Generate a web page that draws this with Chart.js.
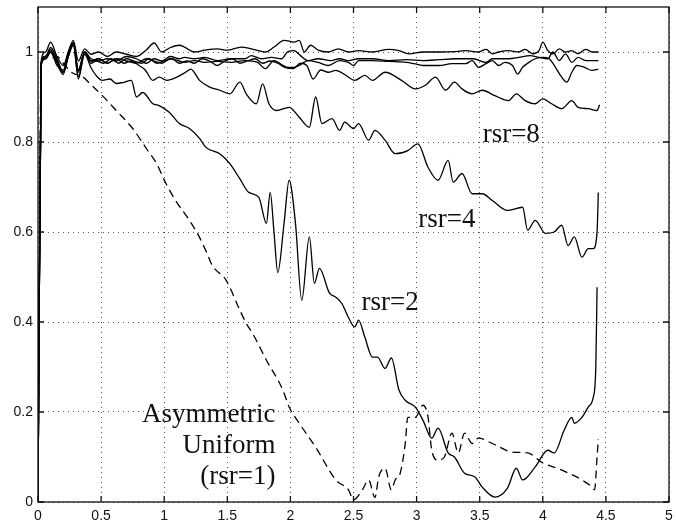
<!DOCTYPE html>
<html>
<head>
<meta charset="utf-8">
<script src="https://cdn.jsdelivr.net/npm/chart.js@4"></script>
<style>
  html, body { margin: 0; padding: 0; background: #fff; }
  #wrap { width: 676px; height: 523px; }
</style>
</head>
<body>
<div id="wrap"><canvas id="chart" width="676" height="523"></canvas></div>
<script>
// [x, y] samples for each curve, rsr = 1 is the dashed one
var rsr1 = [[0,0],[0.025,0.97],[0.06,0.99],[0.1,0.985],[0.15,0.99],[0.2,0.975],[0.26,0.956],[0.3,0.95],[0.35,0.946],[0.41,0.93],[0.51,0.903],[0.62,0.87],[0.75,0.83],[0.86,0.785],[0.94,0.752],[1.01,0.71],[1.09,0.67],[1.2,0.626],[1.28,0.588],[1.34,0.552],[1.38,0.526],[1.49,0.493],[1.6,0.426],[1.65,0.397],[1.7,0.375],[1.81,0.315],[1.94,0.249],[1.99,0.211],[2.07,0.175],[2.2,0.122],[2.36,0.049],[2.46,0.027],[2.5,0.005],[2.57,0.027],[2.62,0.049],[2.67,0.01],[2.7,0.056],[2.75,0.075],[2.8,0.027],[2.83,0.049],[2.87,0.064],[2.91,0.13],[2.93,0.188],[2.99,0.188],[3.05,0.215],[3.09,0.19],[3.12,0.115],[3.17,0.093],[3.22,0.1],[3.28,0.153],[3.33,0.109],[3.38,0.153],[3.44,0.13],[3.49,0.142],[3.6,0.13],[3.76,0.111],[3.88,0.109],[4.0,0.087],[4.15,0.071],[4.31,0.049],[4.39,0.033],[4.41,0.027],[4.43,0.1],[4.44,0.14]];

var rsr2 = [[0,0],[0.025,0.97],[0.06,0.985],[0.1,1.0],[0.15,0.98],[0.2,0.955],[0.24,0.99],[0.28,1.015],[0.32,0.945],[0.37,0.995],[0.42,0.965],[0.46,0.948],[0.51,0.937],[0.57,0.94],[0.62,0.93],[0.67,0.932],[0.74,0.937],[0.78,0.9],[0.83,0.91],[0.91,0.885],[0.96,0.881],[1.04,0.866],[1.12,0.841],[1.2,0.83],[1.28,0.808],[1.33,0.788],[1.44,0.774],[1.52,0.752],[1.6,0.718],[1.67,0.688],[1.75,0.677],[1.81,0.619],[1.84,0.688],[1.87,0.6],[1.9,0.51],[1.95,0.62],[1.99,0.715],[2.04,0.62],[2.09,0.448],[2.15,0.589],[2.19,0.486],[2.23,0.519],[2.31,0.464],[2.36,0.455],[2.41,0.44],[2.46,0.41],[2.51,0.389],[2.54,0.404],[2.59,0.366],[2.65,0.322],[2.69,0.322],[2.75,0.297],[2.8,0.32],[2.86,0.249],[2.91,0.226],[2.99,0.211],[3.05,0.182],[3.12,0.142],[3.17,0.164],[3.25,0.109],[3.3,0.1],[3.38,0.064],[3.46,0.056],[3.52,0.033],[3.62,0.011],[3.72,0.031],[3.79,0.075],[3.84,0.049],[3.94,0.078],[4.04,0.115],[4.09,0.109],[4.17,0.16],[4.23,0.188],[4.25,0.175],[4.31,0.188],[4.36,0.211],[4.4,0.233],[4.42,0.3],[4.43,0.477]];

var rsr4 = [[0,0],[0.025,0.975],[0.06,0.99],[0.1,1.005],[0.15,0.975],[0.2,0.95],[0.24,0.995],[0.28,1.02],[0.32,0.94],[0.37,1.0],[0.42,0.98],[0.48,0.985],[0.55,0.975],[0.62,0.985],[0.68,0.975],[0.74,0.98],[0.8,0.97],[0.85,0.96],[0.91,0.937],[0.96,0.944],[1.02,0.937],[1.1,0.944],[1.17,0.955],[1.21,0.962],[1.28,0.937],[1.36,0.922],[1.44,0.915],[1.52,0.907],[1.6,0.933],[1.65,0.907],[1.73,0.885],[1.78,0.929],[1.83,0.885],[1.89,0.87],[1.99,0.877],[2.07,0.855],[2.15,0.833],[2.2,0.9],[2.25,0.841],[2.33,0.852],[2.39,0.826],[2.43,0.844],[2.5,0.83],[2.54,0.841],[2.62,0.804],[2.67,0.826],[2.75,0.804],[2.83,0.774],[2.93,0.781],[3.01,0.796],[3.09,0.744],[3.17,0.715],[3.25,0.759],[3.29,0.711],[3.36,0.73],[3.44,0.685],[3.52,0.685],[3.6,0.67],[3.72,0.648],[3.84,0.655],[3.88,0.604],[3.94,0.626],[4.02,0.597],[4.09,0.6],[4.15,0.615],[4.2,0.57],[4.25,0.589],[4.31,0.544],[4.36,0.563],[4.4,0.563],[4.43,0.6],[4.44,0.688]];

var rsr8 = [[0,0],[0.025,0.975],[0.06,0.99],[0.1,1.0],[0.15,0.97],[0.2,0.96],[0.24,1.0],[0.28,1.02],[0.32,0.955],[0.37,1.0],[0.42,0.975],[0.46,0.98],[0.52,0.975],[0.58,0.985],[0.64,0.975],[0.7,0.985],[0.76,0.98],[0.82,0.975],[0.88,0.985],[0.94,0.975],[1.0,0.98],[1.06,0.985],[1.12,0.975],[1.18,0.98],[1.24,0.975],[1.3,0.985],[1.36,0.98],[1.42,0.97],[1.48,0.98],[1.54,0.985],[1.6,0.975],[1.66,0.98],[1.72,0.985],[1.78,0.975],[1.84,0.98],[1.9,0.975],[1.96,0.965],[2.02,0.963],[2.08,0.975],[2.13,0.97],[2.18,0.94],[2.24,0.96],[2.3,0.955],[2.36,0.959],[2.43,0.95],[2.51,0.937],[2.59,0.948],[2.65,0.937],[2.75,0.955],[2.88,0.937],[2.99,0.918],[3.07,0.926],[3.15,0.944],[3.23,0.915],[3.3,0.933],[3.36,0.918],[3.44,0.907],[3.52,0.915],[3.62,0.903],[3.73,0.892],[3.79,0.907],[3.86,0.892],[3.94,0.885],[4.0,0.896],[4.07,0.885],[4.15,0.874],[4.23,0.892],[4.28,0.877],[4.36,0.874],[4.43,0.87],[4.45,0.883]];

var rsr16 = [[0,0],[0.025,0.975],[0.06,0.985],[0.1,1.0],[0.15,0.98],[0.2,0.955],[0.24,0.99],[0.28,1.02],[0.32,0.96],[0.37,1.0],[0.42,0.98],[0.48,0.985],[0.55,0.975],[0.62,0.985],[0.7,0.98],[0.78,0.975],[0.86,0.985],[0.92,0.98],[0.98,0.975],[1.05,0.985],[1.12,0.98],[1.16,0.977],[1.24,0.981],[1.32,0.977],[1.42,0.979],[1.53,0.977],[1.64,0.981],[1.74,0.977],[1.8,0.963],[1.87,0.981],[1.93,0.972],[1.98,0.966],[2.03,0.966],[2.08,0.972],[2.14,0.981],[2.22,0.977],[2.3,0.97],[2.39,0.981],[2.46,0.977],[2.5,0.97],[2.54,0.981],[2.65,0.981],[2.78,0.979],[2.92,0.977],[2.98,0.974],[3.05,0.97],[3.18,0.97],[3.28,0.974],[3.39,0.974],[3.44,0.981],[3.49,0.966],[3.55,0.974],[3.6,0.981],[3.65,0.97],[3.7,0.977],[3.76,0.97],[3.8,0.951],[3.84,0.966],[3.89,0.977],[3.94,0.985],[4.0,0.988],[4.05,0.985],[4.1,0.966],[4.14,0.948],[4.19,0.933],[4.23,0.955],[4.27,0.97],[4.33,0.966],[4.39,0.959],[4.44,0.962]];

var rsr32 = [[0,0],[0.025,0.975],[0.06,0.99],[0.1,1.01],[0.15,0.985],[0.2,0.955],[0.24,0.99],[0.28,1.02],[0.32,0.96],[0.37,1.0],[0.42,0.985],[0.48,0.98],[0.55,0.985],[0.62,0.98],[0.7,0.99],[0.78,0.985],[0.86,0.975],[0.92,0.985],[0.98,0.98],[1.05,0.99],[1.12,0.985],[1.16,0.988],[1.24,0.985],[1.32,0.988],[1.42,0.981],[1.53,0.985],[1.64,0.985],[1.69,0.992],[1.77,0.985],[1.85,0.988],[1.93,0.985],[1.98,1.001],[2.03,1.003],[2.08,0.992],[2.14,0.981],[2.22,0.985],[2.32,0.981],[2.39,0.985],[2.46,0.981],[2.54,0.985],[2.65,0.985],[2.78,0.981],[2.92,0.983],[3.05,0.981],[3.18,0.983],[3.31,0.985],[3.45,0.985],[3.55,0.977],[3.6,0.985],[3.65,0.985],[3.73,0.985],[3.81,0.988],[3.9,0.992],[3.97,0.988],[4.04,0.985],[4.08,1.0],[4.13,0.981],[4.18,0.996],[4.23,0.977],[4.28,0.988],[4.34,0.981],[4.39,0.981],[4.44,0.981]];

var rsr64 = [[0,0],[0.025,0.98],[0.06,1.0],[0.1,1.022],[0.15,0.99],[0.2,0.97],[0.24,1.0],[0.28,1.026],[0.32,0.98],[0.37,1.007],[0.42,0.995],[0.48,1.0],[0.55,0.99],[0.62,1.0],[0.7,0.995],[0.78,0.99],[0.86,1.005],[0.92,1.02],[0.98,1.0],[1.05,1.01],[1.12,1.015],[1.16,1.011],[1.24,1.0],[1.32,1.004],[1.42,1.007],[1.5,1.004],[1.61,1.011],[1.69,1.007],[1.8,1.0],[1.87,1.011],[1.95,1.026],[2.03,1.022],[2.07,1.026],[2.11,1.0],[2.16,1.015],[2.22,1.004],[2.3,1.0],[2.38,1.007],[2.46,1.0],[2.54,1.003],[2.65,1.0],[2.78,1.006],[2.86,1.003],[2.94,0.996],[3.05,1.0],[3.18,1.0],[3.31,1.001],[3.39,1.003],[3.49,1.0],[3.55,1.006],[3.6,0.996],[3.65,1.0],[3.73,1.003],[3.81,1.0],[3.86,1.006],[3.92,0.996],[3.97,1.003],[4.0,1.022],[4.04,1.003],[4.08,0.996],[4.13,1.007],[4.18,1.0],[4.23,1.003],[4.28,0.996],[4.34,1.006],[4.39,1.0],[4.44,1.0]];

// text written inside the plot: lines, anchor in data units, alignment
var notes = [
  { lines: ['rsr=8'], x: 3.75, y: 0.80, align: 'center' },
  { lines: ['rsr=4'], x: 3.24, y: 0.611, align: 'center' },
  { lines: ['rsr=2'], x: 2.79, y: 0.426, align: 'center' },
  { lines: ['Asymmetric', 'Uniform', '(rsr=1)'], x: 1.882, y: 0.177, align: 'right' }
];

function toPoints(arr) {
  return arr.map(function (p) { return { x: p[0], y: p[1] }; });
}

function curve(arr, dashed) {
  return {
    data: toPoints(arr),
    borderColor: '#000',
    borderWidth: 1.3,
    borderDash: dashed ? [8, 5] : [],
    pointRadius: 0,
    fill: false,
    cubicInterpolationMode: 'monotone'
  };
}

// tick text like 0, 0.5, 1 (no trailing .0)
function plainNumber(v) {
  return String(Math.round(v * 10) / 10);
}

// box round the plot, inward tick marks and the rsr labels
var frame = {
  id: 'frame',
  afterDraw: function (chart) {
    var ctx = chart.ctx, a = chart.chartArea;
    var xs = chart.scales.x, ys = chart.scales.y;
    ctx.save();
    ctx.strokeStyle = '#111';
    ctx.lineWidth = 1.3;
    ctx.setLineDash([]);
    ctx.strokeRect(a.left, a.top, a.right - a.left, a.bottom - a.top);
    ctx.beginPath();
    xs.ticks.forEach(function (t) {
      var px = xs.getPixelForValue(t.value);
      ctx.moveTo(px, a.bottom); ctx.lineTo(px, a.bottom - 6);
      ctx.moveTo(px, a.top); ctx.lineTo(px, a.top + 6);
    });
    ys.ticks.forEach(function (t) {
      var py = ys.getPixelForValue(t.value);
      ctx.moveTo(a.left, py); ctx.lineTo(a.left + 6, py);
      ctx.moveTo(a.right, py); ctx.lineTo(a.right - 6, py);
    });
    ctx.stroke();

    ctx.fillStyle = '#111';
    ctx.font = "27px 'Liberation Serif', 'Times New Roman', serif";
    ctx.textBaseline = 'alphabetic';
    notes.forEach(function (n) {
      ctx.textAlign = n.align;
      var px = xs.getPixelForValue(n.x);
      var py = ys.getPixelForValue(n.y);
      n.lines.forEach(function (line, i) {
        ctx.fillText(line, px, py + i * 31);
      });
    });
    ctx.restore();
  }
};

var gridStyle = { color: '#555', lineWidth: 1, drawTicks: false };

new Chart(document.getElementById('chart'), {
  type: 'line',
  data: {
    datasets: [
      curve(rsr1, true),
      curve(rsr2),
      curve(rsr4),
      curve(rsr8),
      curve(rsr16),
      curve(rsr32),
      curve(rsr64)
    ]
  },
  options: {
    responsive: false,
    animation: false,
    layout: { padding: { top: 7, right: 7, left: 0, bottom: 0 } },
    plugins: { legend: { display: false }, tooltip: { enabled: false } },
    scales: {
      x: {
        type: 'linear',
        min: 0,
        max: 5,
        grid: gridStyle,
        border: { display: false, dash: [1, 4] },
        ticks: {
          stepSize: 0.5,
          padding: 6,
          color: '#111',
          maxRotation: 0,
          callback: plainNumber,
          font: { family: "'Liberation Sans', Arial, sans-serif", size: 14 }
        },
        afterFit: function (s) {
          s.height = 21;
          s.paddingLeft = 0;
          s.paddingRight = 0;
        }
      },
      y: {
        type: 'linear',
        min: 0,
        max: 1.1,
        grid: gridStyle,
        border: { display: false, dash: [1, 4] },
        ticks: {
          stepSize: 0.2,
          padding: 5,
          color: '#111',
          callback: plainNumber,
          font: { family: "'Liberation Sans', Arial, sans-serif", size: 14 }
        },
        afterBuildTicks: function (s) {
          s.ticks = s.ticks.filter(function (t) { return t.value <= 1.0001; });
        },
        afterFit: function (s) {
          s.width = 38;
          s.paddingTop = 0;
          s.paddingBottom = 0;
        }
      }
    }
  },
  plugins: [frame]
});
</script>
</body>
</html>
